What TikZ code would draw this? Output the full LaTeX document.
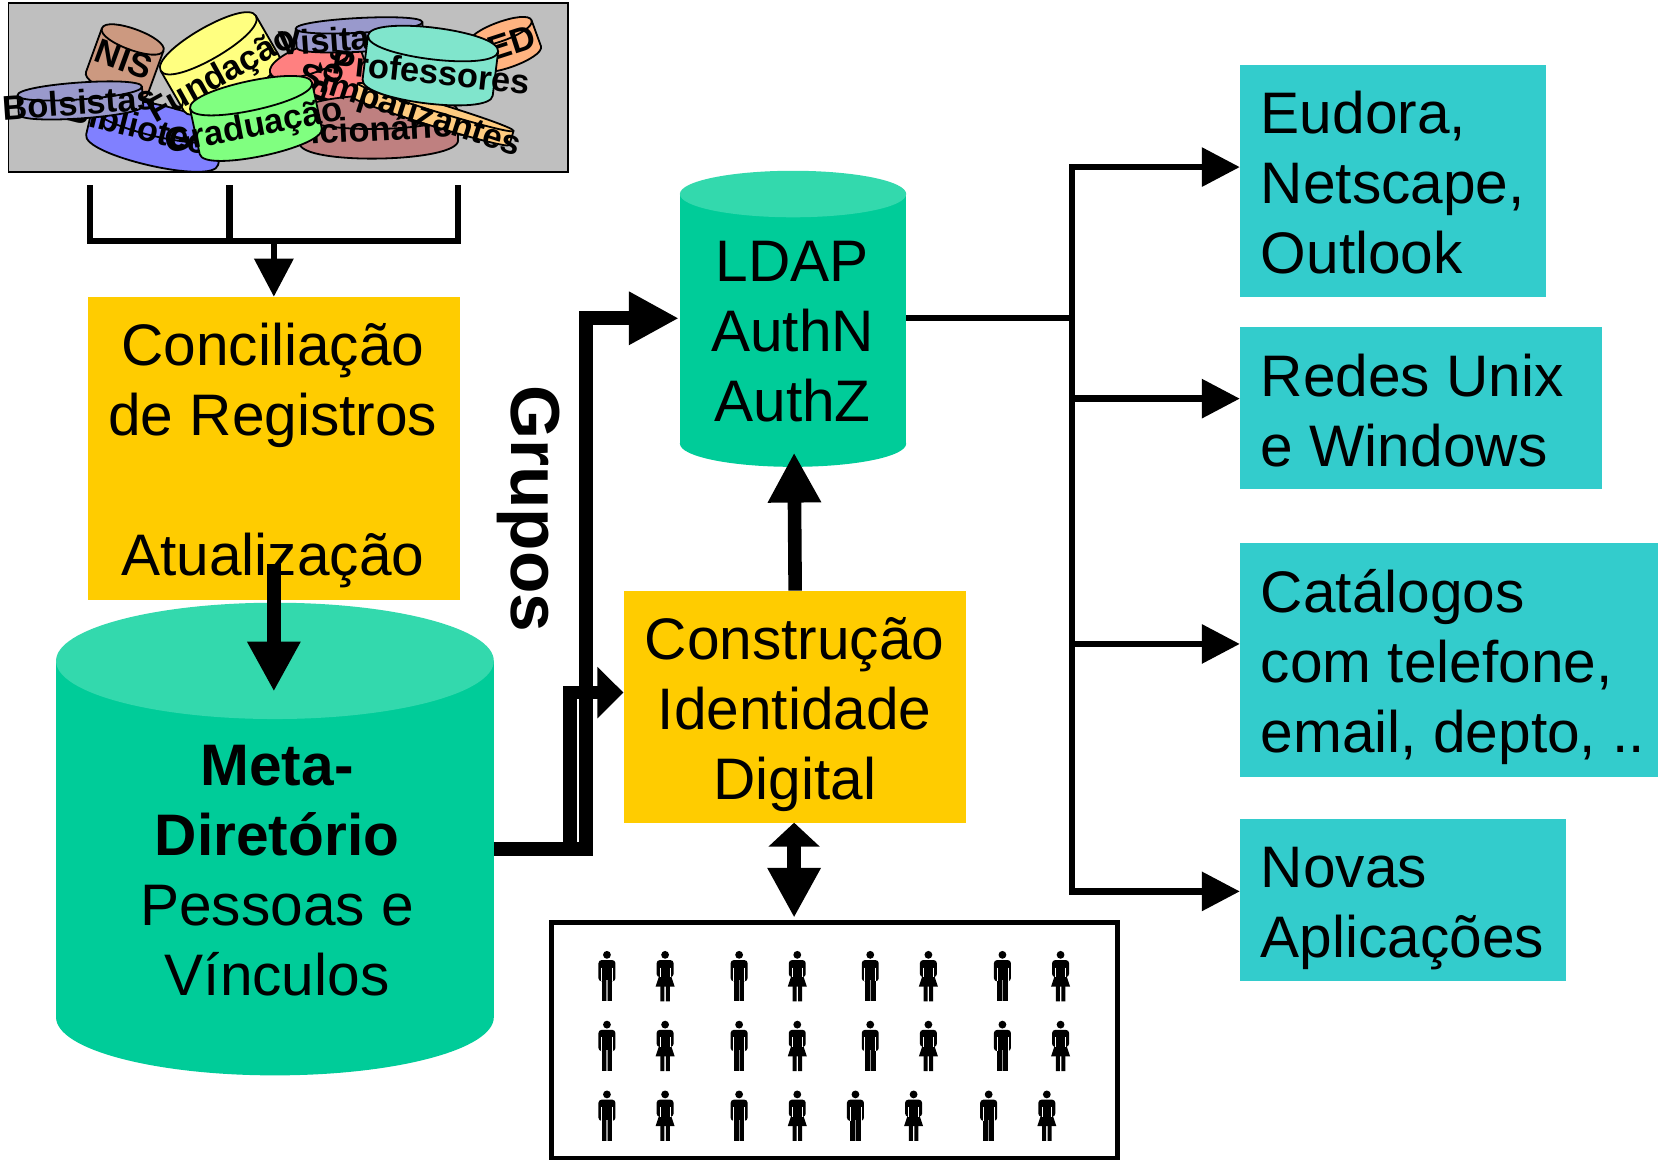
\documentclass[tikz,border=0pt]{standalone}
\usepackage{fontspec}
\setmainfont{Liberation Sans}
\usetikzlibrary{arrows.meta}
\definecolor{boxy}{HTML}{FFCC00}
\definecolor{cylg}{HTML}{00CC99}
\definecolor{cylt}{HTML}{33D9AD}
\definecolor{tealb}{HTML}{33CCCC}
\definecolor{cnis}{HTML}{CC9980}
\definecolor{cfun}{HTML}{FFFF80}
\definecolor{cvis}{HTML}{9999CC}
\definecolor{cced}{HTML}{FFB380}
\definecolor{cpos}{HTML}{FF8080}
\definecolor{cfnc}{HTML}{BF8080}
\definecolor{csim}{HTML}{FFCC80}
\definecolor{cbib}{HTML}{8080FF}
\definecolor{cgra}{HTML}{80FF80}
\definecolor{cpro}{HTML}{80E5CC}
\tikzset{
 x=0.5287pt,y=-0.5287pt,
 bigfont/.style={font=\fontsize{29.3}{35}\selectfont},
 yellowbox/.style={fill=boxy,inner sep=0pt},
 tealbox/.style={fill=tealb,inner sep=0pt,anchor=north west},
 label/.style={bigfont,align=center,inner sep=0pt},
 leftlabel/.style={bigfont,align=left,anchor=north west,inner sep=0pt},
 thick conn/.style={line width=6.8pt},
 thin conn/.style={line width=3.2pt},
 bighead/.tip={Triangle[length=25pt,width=25pt]},
 smallhead/.tip={Triangle[length=19pt,width=19pt]},
 smalltxt/.style={font=\bfseries\fontsize{17.2}{18}\selectfont,inner sep=0pt},
}
\newcommand{\bigcyl}[5]{%
 \fill[cylg] (#1,#4) ellipse[x radius=#3,y radius=#5];
 \fill[cylg] (#1-#3,#2) rectangle (#1+#3,#4);
 \fill[cylt] (#1,#2) ellipse[x radius=#3,y radius=#5];
}
% cx,cy,rot,half width,half body height,ry,colour
\newcommand{\tincyl}[7]{%
 \begin{scope}[shift={(#1,#2)},rotate=#3]
 \filldraw[fill=#7,draw=black,line width=0.9pt] (-#4,-#5) -- (-#4,#5)
   .. controls (-#4,#5+1.33*#6) and (#4,#5+1.33*#6) .. (#4,#5) -- (#4,-#5)
   .. controls (#4,-#5-1.33*#6) and (-#4,-#5-1.33*#6) .. (-#4,-#5) -- cycle;
 \draw[line width=0.9pt] (-#4,-#5) .. controls (-#4,-#5+1.33*#6) and (#4,-#5+1.33*#6) .. (#4,-#5);
 \end{scope}
}
\newcommand{\tintext}[4]{\node[smalltxt,rotate=#4] at (#2,#3) {#1};}
\newcommand{\man}[1]{%
 \begin{scope}[shift={#1}]
 \fill (0,-19) circle[radius=3.7];
 \fill[rounded corners=1.5] (-8,-14) rectangle (8,6);
 \fill (-5,-10) rectangle (5,25);
 \draw[white!60!black,line width=0.6pt] (0,5) -- (0,25);
 \draw[white,line width=0.3pt] (-5.2,-7) -- (-5.2,6) (5.2,-7) -- (5.2,6);
 \end{scope}}
\newcommand{\woman}[1]{%
 \begin{scope}[shift={#1}]
 \fill (0,-19) circle[radius=3.7];
 \fill[rounded corners=1.5] (-8,-14) rectangle (8,2);
 \fill (-4,-12) -- (4,-12) -- (4,-4) -- (9,11) -- (-9,11) -- (-4,-4) -- cycle;
 \fill (-4.5,10) rectangle (-0.7,25) (0.7,10) rectangle (4.5,25);
 \draw[white,line width=0.3pt] (-4.6,-7) -- (-4.6,2) (4.6,-7) -- (4.6,2);
 \end{scope}}
\begin{document}
\begin{tikzpicture}
\useasboundingbox (0,0) rectangle (1568,1097);
\fill[white] (0,0) rectangle (1568,1097);
% top panel
\node[draw=black,line width=0.9pt,fill=black!25,minimum width=529*0.5287pt,minimum height=160*0.5287pt,inner sep=0pt] (panel) at (272.5,83) {};
\tincyl{118}{58}{-20}{31}{22}{10}{cnis}
\tintext{NIS}{117}{56}{-20}
\tincyl{147}{128}{-13}{64}{14}{15}{cbib}
\tintext{Biblioteca}{138}{121}{-14}
\tincyl{76}{95}{4}{59}{9}{8}{cvis}
\tintext{Bolsistas}{75}{97}{4}
\tincyl{208}{60}{30}{52}{22}{15}{cfun}
\tintext{Fundação}{210}{72}{29}
\tincyl{303}{71}{20}{44}{18}{14}{cpos}
\tintext{Pós}{312}{70}{70}
\tincyl{340}{33}{3}{60}{9}{7}{cvis}
\tintext{Visitantes}{340}{36}{4}
\tincyl{478}{42}{20}{31}{13}{9}{cced}
\tintext{CED}{473}{44}{18}
\tincyl{358}{120}{1}{75}{14}{16}{cfnc}
\tintext{Funcionários}{345}{122}{3}
\tincyl{410}{108}{-17}{77}{7}{4}{csim}
\tintext{Simpatizantes}{387}{106}{-18}
\tincyl{242}{112}{12}{59}{22}{14}{cgra}
\tintext{Graduação}{240}{121}{11}
\tincyl{407}{62}{-7}{62}{21}{15}{cpro}
\tintext{Professores}{408}{68}{-6}
% cylinders
\bigcyl{260}{625}{207}{962}{55}
\node[label] (meta) at (262,823) {\textbf{Meta-}\\\textbf{Diretório}\\Pessoas e\\Vínculos};
\bigcyl{750}{183.5}{107}{419.5}{22}
\node[label] (ldap) at (749.5,313.5) {LDAP\\AuthN\\AuthZ};
% yellow boxes
\node[yellowbox,minimum width=352*0.5287pt,minimum height=286*0.5287pt] (conc) at (259,424) {};
\node[label] (conct) at (258,431) {Conciliação\\de Registros\\\strut\\Atualização};
\node[yellowbox,minimum width=324*0.5287pt,minimum height=219*0.5287pt] (cons) at (752,668.5) {};
\node[label] (const) at (751.5,676) {Construção\\Identidade\\Digital};
% teal boxes
\node[tealbox,minimum width=289*0.5287pt,minimum height=219*0.5287pt] (t1) at (1172.5,61.5) {};
\node[leftlabel] at (1192,86) {Eudora,\\Netscape,\\Outlook};
\node[tealbox,minimum width=342*0.5287pt,minimum height=153*0.5287pt] (t2) at (1172.5,309) {};
\node[leftlabel] at (1192,334) {Redes Unix\\e Windows};
\node[tealbox,minimum width=396*0.5287pt,minimum height=221*0.5287pt] (t3) at (1172.5,513.5) {};
\node[leftlabel] at (1192,538.5) {Catálogos\\com telefone,\\email, depto, ..};
\node[tealbox,minimum width=308*0.5287pt,minimum height=153*0.5287pt] (t4) at (1172.5,774.5) {};
\node[leftlabel] at (1192,800.5) {Novas\\Aplicações};
% people box
\node[draw=black,line width=2.5pt,fill=white,minimum width=535*0.5287pt,minimum height=224*0.5287pt,inner sep=0pt] (people) at (789,984) {};
\foreach \y in {922,988}{\foreach \x in {574,699,823,948}{\man{(\x,\y)}}\foreach \x in {629,754,878,1003}{\woman{(\x,\y)}}}
\foreach \x in {574,699,809,935}{\man{(\x,1054)}}
\foreach \x in {629,754,864,990}{\woman{(\x,1054)}}
% Grupos
\node[font=\bfseries\fontsize{34.7}{40}\selectfont,rotate=-90,inner sep=0pt] (grupos) at (500,481) {Grupos};
% connectors: panel to reconciliation
\coordinate (p1) at (85,175);\coordinate (p2) at (217,175);\coordinate (p3) at (433,175);\coordinate (pj) at (259,228);
\draw[thin conn] (p1) -- (85,228) -- (433,228) -- (p3);
\draw[thin conn] (p2) -- (217,228);
\draw[thin conn,-smallhead] (pj) -- (conc.north -| pj);
\draw[thick conn,-bighead] (259,533) -- (259,654);
% metadirectory
\coordinate (mout) at (467,803);
\draw[thick conn,-bighead] (mout) -- (554,803) -- (554,301) -- (642,301);
\draw[thick conn,-{Triangle[length=13pt,width=25pt]}] (mout) -- (539,803) -- (539,655) -- (cons.west |- 0,655);
\draw[thick conn,-bighead] (cons.north) -- (751,428);
\draw[thick conn,{Triangle[length=12pt,width=25pt]}-bighead] (751,778) -- (751,868);
% LDAP outputs
\coordinate (b) at (1014,301);
\draw[thin conn] (857,301) -- (b);
\draw[thin conn,-smallhead] (b) -- (1014,158) -- (t1.west |- 0,158);
\draw[thin conn,-smallhead] (b) -- (1014,843) -- (t4.west |- 0,843);
\draw[thin conn,-smallhead] (1014,377) -- (t2.west |- 0,377);
\draw[thin conn,-smallhead] (1014,609) -- (t3.west |- 0,609);
\end{tikzpicture}
\end{document}
